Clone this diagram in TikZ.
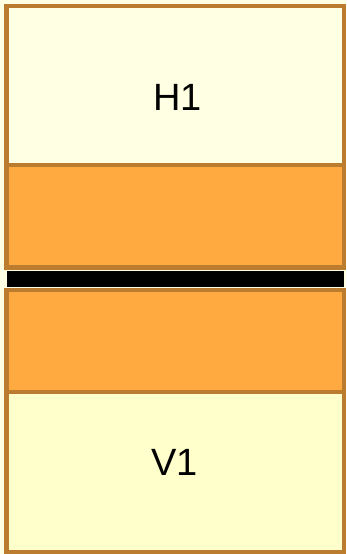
\documentclass[tikz,border=0pt]{standalone}
\usepackage{fontspec}
\setmainfont{Liberation Sans}
\definecolor{palecream}{RGB}{255,255,228}
\definecolor{cellcream}{RGB}{255,255,204}
\definecolor{bandorange}{RGB}{255,170,64}
\definecolor{edgebrown}{RGB}{188,124,48}
\begin{document}
\begin{tikzpicture}[
  x=1pt, y=-1pt,
  cell/.style={draw=edgebrown, line width=4.5pt, minimum width=337.5pt, inner sep=0pt},
  junction/.style={draw=palecream, fill=black, line width=1.2pt, minimum width=338pt, minimum height=17pt, inner sep=0pt},
  layername/.style={inner sep=0pt, font=\fontsize{38}{42}\selectfont}
]
\useasboundingbox (0,0) rectangle (346,554);
\fill[palecream] (0,0) rectangle (346,554);
\node[cell, fill=palecream, minimum height=159pt] (top) at (175.25,85.5) {};
\node[cell, fill=bandorange, minimum height=102.5pt] (upper) at (175.25,216.25) {};
\node[cell, fill=bandorange, minimum height=102pt] (lower) at (175.25,341) {};
\node[cell, fill=cellcream, minimum height=160pt] (bottom) at (175.25,472) {};
\node[junction] (gap) at (175.25,279) {};
\node[layername] (h1) at (177.5,97) {H1};
\node[layername] (v1) at (174.5,462) {V1};
\end{tikzpicture}
\end{document}
